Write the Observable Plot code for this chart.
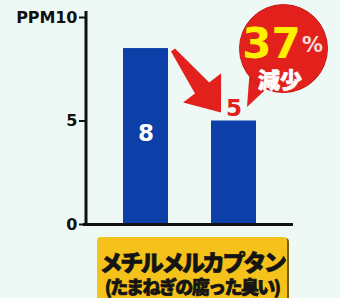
<!DOCTYPE html>
<html><head><meta charset="utf-8">
<script src="https://cdn.jsdelivr.net/npm/d3@7"></script>
<script src="https://cdn.jsdelivr.net/npm/@observablehq/plot@0.6"></script>
<style>
html,body{margin:0;padding:0;background:#eef8f4;}
body{width:340px;height:298px;overflow:hidden;}
#chart svg{display:block;}
#cat{margin:5px 0 0 97px;width:190px;height:66px;background:#f5c11b;border-radius:4px;box-shadow:2px 1px 0 #7a5c12;text-align:center;font-family:"Noto Sans CJK JP",sans-serif;font-weight:900;color:#141414;white-space:nowrap;-webkit-text-stroke:0.7px #141414;}
#cat .l1{font-size:23px;letter-spacing:-2.4px;line-height:26px;padding-top:11px;}
#cat .l2{font-size:18px;letter-spacing:-1.6px;line-height:24px;margin-left:-4px;margin-right:-4px;}
</style></head>
<body>
<div id="chart"></div>
<div id="cat"><div class="l1"></div><div class="l2"></div></div>
<script>
// ---- data ----
const periods = ["対策前", "対策後"];
const ppmValues = [8.5, 5];
const valueLabels = ["8", "5"];
const yTicks = [0, 5, 10];
const unitLabel = "PPM";
const categoryName = "メチルメルカプタン";
const categoryNote = "(たまねぎの腐った臭い)";
const changePct = "37";
const pctSign = "%";
const changeWord = "減少";

const data = periods.map((p, i) => ({period: p, value: ppmValues[i], label: valueLabels[i]}));
const before = data[0], after = data[1];

document.querySelector("#cat .l1").textContent = categoryName;
document.querySelector("#cat .l2").textContent = categoryNote;

const RED = "#e3211c";
const NUMFONT = "DejaVu Sans";

// axis line + arrow + bubble tail, all positioned through Plot's scales
function decorations(index, scales, values, dimensions) {
  const x = scales.x, y = scales.y;
  const bw = x.bandwidth ? x.bandwidth() : 45;
  const g = d3.create("svg:g");
  const x0 = dimensions.marginLeft;
  g.append("line").attr("x1", x0).attr("x2", x0)
    .attr("y1", y(yTicks[yTicks.length - 1]) - 6).attr("y2", y(0) + 1)
    .attr("stroke", "#111").attr("stroke-width", 3);
  const S = [x(before.period) + bw + 5, y(before.value) + 2];
  const E = [x(after.period) + bw / 2 - 12.5, y(after.value) - 8];
  const dx = E[0] - S[0], dy = E[1] - S[1], L = Math.hypot(dx, dy);
  const u = [dx / L, dy / L], n = [u[1], -u[0]];
  const B = [E[0] - u[0] * 31, E[1] - u[1] * 31];
  const P = (p, k) => [p[0] + n[0] * k, p[1] + n[1] * k];
  const pts = [P(S, 2.5), P(B, 9), P(B, 24), E, P(B, -24), P(B, -9), P(S, -2.5)];
  g.append("path").attr("d", "M" + pts.map(p => p.join(",")).join("L") + "Z").attr("fill", RED);
  const C = [x(after.period) + bw / 2 + 49.5, y(before.value)];
  const r = 44;
  const a1 = 140 * Math.PI / 180, a2 = 112 * Math.PI / 180;
  const tail = [[C[0] + r * Math.cos(a1), C[1] + r * Math.sin(a1)], [C[0] - 36, C[1] + 59], [C[0] + r * Math.cos(a2), C[1] + r * Math.sin(a2)]];
  g.append("path").attr("d", "M" + tail.map(p => p.join(",")).join("L") + "Z").attr("fill", RED);
  return g.node();
}

const chart = Plot.plot({
  width: 340,
  height: 232,
  marginLeft: 86,
  marginRight: 47,
  marginTop: 17,
  marginBottom: 8,
  style: {background: "transparent", color: "#111", fontFamily: NUMFONT},
  x: {domain: periods, axis: null, paddingInner: 0.494, paddingOuter: 0.41},
  y: {domain: [0, 10], axis: null},
  marks: [
    Plot.barY(data, {x: "period", y: "value", fill: "#0c3fa8"}),
    Plot.axisY(yTicks, {tickSize: 7, tickPadding: 2, strokeWidth: 2, fontSize: 16, fontWeight: "bold", fontFamily: NUMFONT, label: null, tickFormat: d => String(d)}),
    Plot.text([unitLabel], {y: () => yTicks[yTicks.length - 1], frameAnchor: "left", text: d => d, textAnchor: "end", dx: -31, fontSize: 16, fontWeight: "bold", fontFamily: NUMFONT, fill: "#111"}),
    Plot.ruleY([0], {stroke: "#111", strokeWidth: 3, insetLeft: -3}),
    decorations,
    Plot.dot([after], {x: "period", y: () => before.value, r: 44, fill: RED, stroke: "#c41a15", strokeWidth: 1, dx: 49.5}),
    Plot.text([before], {x: "period", y: d => d.value / 2, text: "label", fill: "white", fontSize: 23, fontWeight: "bold", fontFamily: NUMFONT, dy: -3}),
    Plot.text([after], {x: "period", y: "value", text: "label", fill: RED, fontSize: 23, fontWeight: "bold", fontFamily: NUMFONT, lineAnchor: "bottom", dy: -5}),
    Plot.text([after], {x: "period", y: () => before.value, text: () => changePct, fill: "#fff000", fontSize: 42, fontWeight: "bold", fontFamily: NUMFONT, dx: 37.5, dy: -4}),
    Plot.text([after], {x: "period", y: () => before.value, text: () => pctSign, fill: "#f6dcd6", fontSize: 21, fontWeight: "bold", fontFamily: NUMFONT, dx: 78.5, dy: -3}),
    Plot.text([after], {x: "period", y: () => before.value, text: () => changeWord, fill: "#ffffff", stroke: "#ffffff", strokeWidth: 0.6, fontSize: 22, fontWeight: "900", fontFamily: "Noto Sans CJK JP", dx: 46, dy: 32})
  ]
});
document.getElementById("chart").append(chart);
</script>
</body></html>
